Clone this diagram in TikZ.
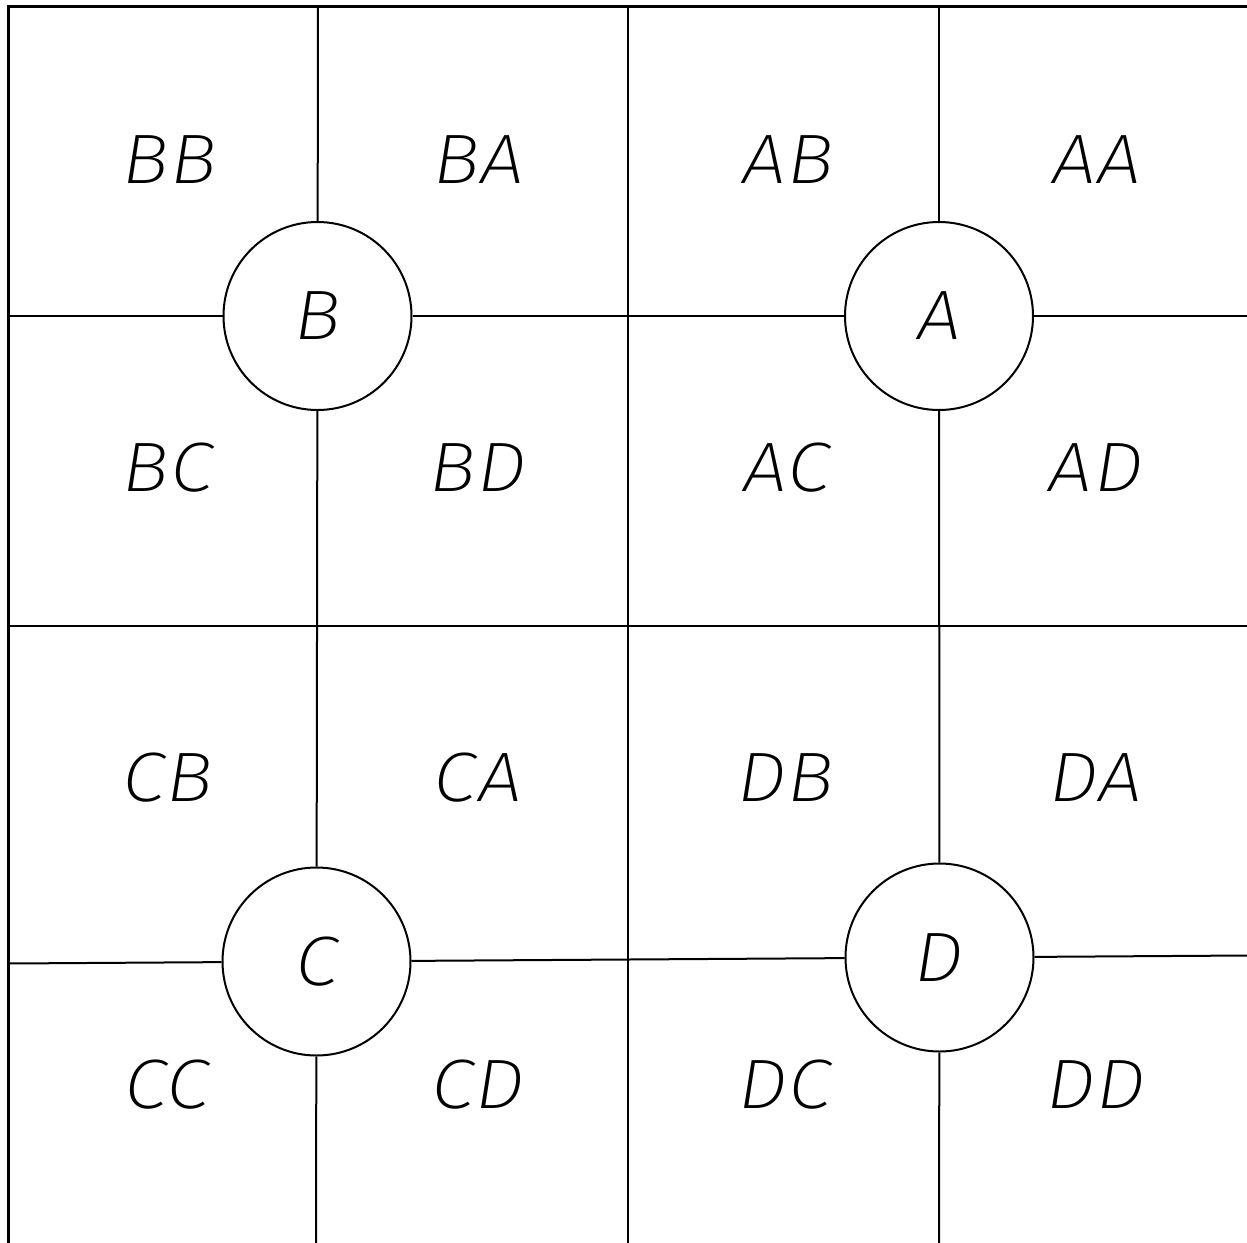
\documentclass[tikz,border=0pt]{standalone}
\usepackage{fontspec}
\newfontfamily\lblfont{Fira Sans}[UprightFont={* ExtraLight Italic},FakeStretch=1.12,LetterSpace=2]
\begin{document}
\begin{tikzpicture}[x=1bp,y=-1bp,
  grid/.style={line width=2bp,black},
  frame/.style={line width=3bp,black,line cap=rect},
  hub/.style={circle,draw,line width=2bp,minimum size=188bp,inner sep=0pt,font=\lblfont\fontsize{70bp}{72bp}\selectfont},
  cell/.style={inner sep=0pt,font=\lblfont\fontsize{70bp}{72bp}\selectfont}]
\useasboundingbox (0,0) rectangle (1247,1243);
% hubs
\node[hub] (B) at (317.5,316) {B};
\node[hub] (A) at (939,316) {A};
\node[hub] (C) at (316.5,961.5) {C};
\node[hub] (D) at (939.5,957.5) {D};
% border points
\coordinate (tl) at (8,6);
\coordinate (bl) at (8,1243);
\coordinate (tr) at (1247,6);
\coordinate (v1t) at (318,6);
\coordinate (v1b) at (316,1243);
\coordinate (v2t) at (628,6);
\coordinate (v2b) at (628,1243);
\coordinate (v3t) at (939,6);
\coordinate (v3b) at (939,1243);
\coordinate (h1l) at (8,316);
\coordinate (h1r) at (1247,316);
\coordinate (h2l) at (8,626);
\coordinate (h2r) at (1247,626);
\coordinate (h3l) at (8,963.5);
\coordinate (h3r) at (1247,955.5);
% grid
\draw[grid] (v1t) -- (B);
\draw[grid] (B) -- (C);
\draw[grid] (C) -- (v1b);
\draw[grid] (v2t) -- (v2b);
\draw[grid] (v3t) -- (A);
\draw[grid] (A) -- (D);
\draw[grid] (D) -- (v3b);
\draw[grid] (h1l) -- (B);
\draw[grid] (B) -- (A);
\draw[grid] (A) -- (h1r);
\draw[grid] (h2l) -- (h2r);
\draw[grid] (h3l) -- (C);
\draw[grid] (C) -- (D);
\draw[grid] (D) -- (h3r);
\draw[frame] (bl) -- (tl) -- (tr);
% cell labels
\node[cell] (BB) at (170,160) {BB};
\node[cell] (BA) at (479,160) {BA};
\node[cell] (AB) at (788,160) {AB};
\node[cell] (AA) at (1097,160) {AA};
\node[cell] (BC) at (168,468) {BC};
\node[cell] (BD) at (478,468) {BD};
\node[cell] (AC) at (787,468) {AC};
\node[cell] (AD) at (1096,468) {AD};
\node[cell] (CB) at (168,778) {CB};
\node[cell] (CA) at (478,778) {CA};
\node[cell] (DB) at (786,778) {DB};
\node[cell] (DA) at (1096,778) {DA};
\node[cell] (CC) at (167,1085) {CC};
\node[cell] (CD) at (478,1085) {CD};
\node[cell] (DC) at (785,1085) {DC};
\node[cell] (DD) at (1096,1085) {DD};
\end{tikzpicture}
\end{document}
